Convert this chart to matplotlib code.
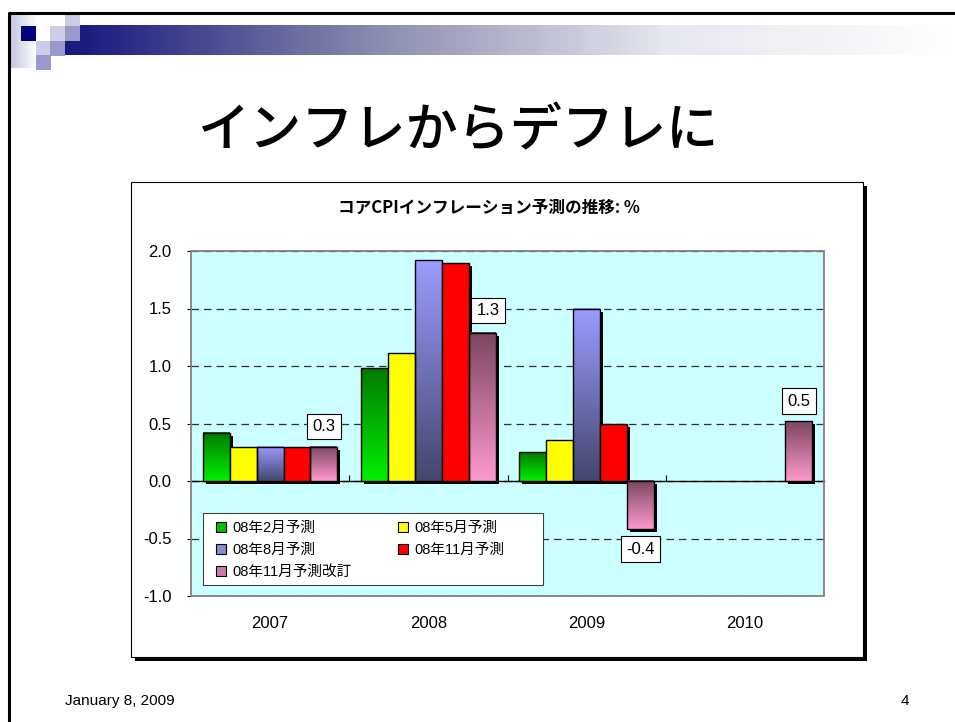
import numpy as np
import matplotlib
matplotlib.use("Agg")
import matplotlib.pyplot as plt
from matplotlib.colors import LinearSegmentedColormap
from matplotlib.patches import Rectangle, Patch
from matplotlib.transforms import ScaledTranslation, blended_transform_factory

plt.rcParams['font.family'] = ['Liberation Sans', 'Noto Sans CJK JP', 'DejaVu Sans']

# data (%)
years = ['2007', '2008', '2009', '2010']
series_names = ['08年2月予測', '08年5月予測', '08年8月予測', '08年11月予測', '08年11月予測改訂']
feb08 = [0.42, 0.98, 0.25, np.nan]
may08 = [0.30, 1.11, 0.36, np.nan]
aug08 = [0.30, 1.92, 1.50, np.nan]
nov08 = [0.30, 1.90, 0.50, np.nan]
nov08_rev = [0.30, 1.29, -0.42, 0.52]
yticks = [-1.0, -0.5, 0.0, 0.5, 1.0, 1.5, 2.0]

series = [feb08, may08, aug08, nov08, nov08_rev]
# (top colour, bottom colour) for gradient bars, or one solid colour
fills = [('#007A00', '#00F000'), '#FFFF00', ('#9C9CFF', '#45456E'), '#FF0000', ('#7A4660', '#FF99CC')]
legend_cols = ['#00C000', '#FFFF00', '#8A8AD0', '#FF0000', '#CC7AA6']

W, H = 955, 722
fig = plt.figure(figsize=(W / 100, H / 100), dpi=100)


def px_box(x0, y0, x1, y1):
    return [x0 / W, 1 - y1 / H, (x1 - x0) / W, (y1 - y0) / H]


" slide background "
bg = fig.add_axes([0, 0, 1, 1])
bg.axis('off')

hdr = LinearSegmentedColormap.from_list('hdr', ['#1A1A7E', '#8A8AAE', '#E6E6EE', '#FFFFFF'])
bg.imshow(np.linspace(0, 1, 512)[None, :], extent=[80, 955, 55, 25], cmap=hdr, aspect='auto', zorder=1)
side = LinearSegmentedColormap.from_list('side', ['#C4C4DE', '#FFFFFF'])
bg.imshow(np.linspace(0, 1, 64)[None, :], extent=[10, 36, 68, 14], cmap=side, aspect='auto', zorder=1)

squares = [(21, 26, '#000080'), (50, 26, '#CCCCE6'), (65, 14, '#CCCCE6'), (65, 26, '#9999CC'),
           (36, 41, '#CCCCE6'), (50, 41, '#9999CC'), (36, 55, '#9999CC')]
for sx, sy, sc in squares:
    bg.add_patch(Rectangle((sx, sy), 15, 15, fc=sc, ec='none', zorder=2))
bg.add_patch(Rectangle((65, 41), 15, 14, fc='#1A1A7E', ec='none', zorder=2))

bg.plot([8.5, 8.5, 955], [722, 12.5, 12.5], color='black', lw=2.2, zorder=3, solid_capstyle='butt')

# chart area with its shadow
bg.add_patch(Rectangle((135, 186), 732, 475, fc='black', ec='none', zorder=2))
bg.add_patch(Rectangle((131, 182), 732, 475, fc='white', ec='black', lw=0.8, zorder=3))

bg.text(458, 131, 'インフレからデフレに', fontsize=37.5, fontweight='medium', ha='center', va='center',
        family=['Noto Sans CJK JP'], zorder=4)
bg.text(489, 208, 'コアCPIインフレーション予測の推移: %', fontsize=12, fontweight='bold',
        ha='center', va='center', family=['Noto Sans CJK JP'], zorder=4)
bg.text(65, 701, 'January 8, 2009', fontsize=11, ha='left', va='center', zorder=4)
bg.text(905, 701, '4', fontsize=11, ha='center', va='center', zorder=4)

bg.set_xlim(0, W)
bg.set_ylim(H, 0)

" bar chart "
ax = fig.add_axes(px_box(191, 251, 824, 596))
ax.set_facecolor('#CCFFFF')
ax.set_zorder(5)

n = len(series)
w = 0.17
x = np.arange(len(years))
shadow = ScaledTranslation(3 / 100, -3 / 100, fig.dpi_scale_trans)
grad = np.linspace(0, 1, 256)[:, None]
handles = []
for i, (vals, fill) in enumerate(zip(series, fills)):
    xs = x + (i - (n - 1) / 2) * w
    vals = np.asarray(vals, dtype=float)
    ok = ~np.isnan(vals)
    ax.bar(xs[ok], vals[ok], w, color='black', lw=0, transform=ax.transData + shadow, zorder=2)
    if isinstance(fill, tuple):
        bars = ax.bar(xs[ok], vals[ok], w, fc='none', ec='black', lw=1, zorder=4)
        cm = LinearSegmentedColormap.from_list('g%d' % i, list(fill))
        for r in bars:
            y0, y1 = sorted([r.get_y(), r.get_y() + r.get_height()])
            ax.imshow(grad, extent=[r.get_x(), r.get_x() + r.get_width(), y0, y1],
                      cmap=cm, aspect='auto', origin='upper', zorder=3)
    else:
        bars = ax.bar(xs[ok], vals[ok], w, fc=fill, ec='black', lw=1, zorder=4)
    handles.append(Patch(fc=legend_cols[i], ec='black', lw=0.8, label=series_names[i]))

# data labels on the revised series
label_px = [(0, 20), (6, 22), (0, -20), (0, 20)]
xs_rev = x + 2 * w
for xi, v, (dx, dy) in zip(xs_rev, nov08_rev, label_px):
    ax.annotate('%.1f' % v, (xi, v), xytext=(dx * 0.72, dy * 0.72), textcoords='offset points',
                ha='center', va='center', fontsize=12, zorder=6,
                bbox=dict(boxstyle='square,pad=0.32', fc='white', ec='black', lw=0.8))

ax.set_xlim(-0.5, len(years) - 0.5)
ax.set_ylim(-1.0, 2.0)

for s in ['top', 'left', 'right']:
    ax.spines[s].set_visible(False)
ax.spines['bottom'].set_position(('data', 0))
ax.spines['bottom'].set_color('black')
ax.spines['bottom'].set_linewidth(1)
ax.add_patch(Rectangle((0, 0), 1, 1, transform=ax.transAxes, fill=False, ec='#808080', lw=1.3,
                       zorder=7, clip_on=False))

ax.set_xticks(x[:-1] + 0.5)
ax.tick_params(axis='x', direction='in', length=4, labelbottom=False, color='black')
ax.set_yticks(yticks)
ax.set_yticklabels(['%.1f' % v for v in yticks])
ax.tick_params(axis='y', direction='out', length=3, pad=11, labelsize=12, color='black')
ax.yaxis.grid(True, color='#303030', lw=0.9, ls=(0, (6, 4)))
ax.set_axisbelow(True)

tr = blended_transform_factory(ax.transData, ax.transAxes)
for xi, yr in zip(x, years):
    ax.text(xi, -0.08, yr, transform=tr, ha='center', va='center', fontsize=12)

# legend: own frame, entries laid out inside it
ax.add_patch(Rectangle((12 / 633, 11 / 345), 340 / 633, 72 / 345, transform=ax.transAxes,
                       fc='white', ec='#404040', lw=0.8, zorder=8))
order = [0, 2, 4, 1, 3]
leg = ax.legend(handles=[handles[k] for k in order], ncol=2, loc='upper left',
                bbox_to_anchor=(25 / 633, 75 / 345), frameon=False, fontsize=10.5,
                handlelength=0.7, handleheight=0.7, handletextpad=0.4, borderaxespad=0,
                borderpad=0, labelspacing=0.55, columnspacing=3.2)
leg.set_zorder(9)

fig.savefig('out.png', dpi=100)
